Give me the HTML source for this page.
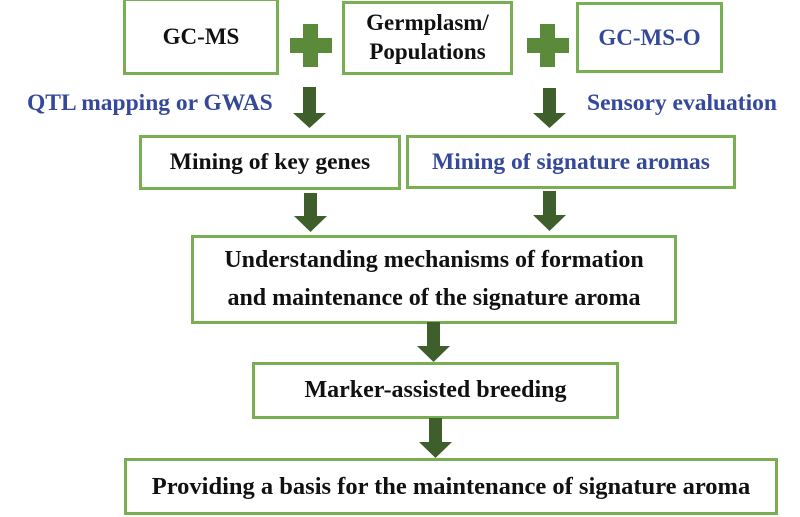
<!DOCTYPE html>
<html><head><style>
body{margin:0;width:800px;height:517px;background:#fff;position:relative;overflow:hidden;font-family:"Liberation Serif",serif;font-weight:bold}
.b{position:absolute;border:3px solid #7aae52;box-sizing:border-box;display:flex;align-items:center;justify-content:center;text-align:center;color:#111;font-size:23.5px;line-height:1.45;white-space:nowrap}
.t{position:absolute;color:#34499a;font-size:23.5px;white-space:nowrap}
.blue{color:#34499a}
</style></head><body>
<div class="b" style="left:123px;top:-2px;width:156px;height:77px;font-size:23px">GC-MS</div>
<div class="b" style="left:342px;top:1px;width:171px;height:74px;line-height:1.25;font-size:23px">Germplasm/<br>Populations</div>
<div class="b blue" style="left:576px;top:2px;width:147px;height:71px;font-size:23px">GC-MS-O</div>
<div class="t" style="left:27px;top:90px">QTL mapping or GWAS</div>
<div class="t" style="left:587px;top:90px">Sensory evaluation</div>
<div class="b" style="left:139px;top:135px;width:262px;height:55px">Mining of key genes</div>
<div class="b blue" style="left:406px;top:135px;width:330px;height:54px">Mining of signature aromas</div>
<div class="b" style="left:191px;top:235px;width:486px;height:89px;line-height:1.55;font-size:24px">Understanding mechanisms of formation<br>and maintenance of the signature aroma</div>
<div class="b" style="left:252px;top:362px;width:367px;height:57px;font-size:24px">Marker-assisted breeding</div>
<div class="b" style="left:124px;top:458px;width:654px;height:57px;font-size:24.5px">Providing a basis for the maintenance of signature aroma</div>
<svg width="800" height="517" style="position:absolute;left:0;top:0">
<g fill="#5a8a3a">
<rect x="290" y="38" width="42" height="15"/><rect x="303" y="24" width="15" height="43"/>
<rect x="527" y="38" width="42" height="15"/><rect x="540" y="24" width="15" height="43"/>
</g>
<g fill="#3e5f2c">
<path d="M303 87h13v26h10l-16.5 15l-16.5-15h10z"/>
<path d="M543 88h13v25h10l-16.5 15l-16.5-15h10z"/>
<path d="M304 193h13v23h10l-16.5 16l-16.5-16h10z"/>
<path d="M543 191h13v24h10l-16.5 16l-16.5-16h10z"/>
<path d="M427 322h13v24h10l-16.5 16l-16.5-16h10z"/>
<path d="M429 418h13v24h10l-16.5 16l-16.5-16h10z"/>
</g>
</svg>
</body></html>
